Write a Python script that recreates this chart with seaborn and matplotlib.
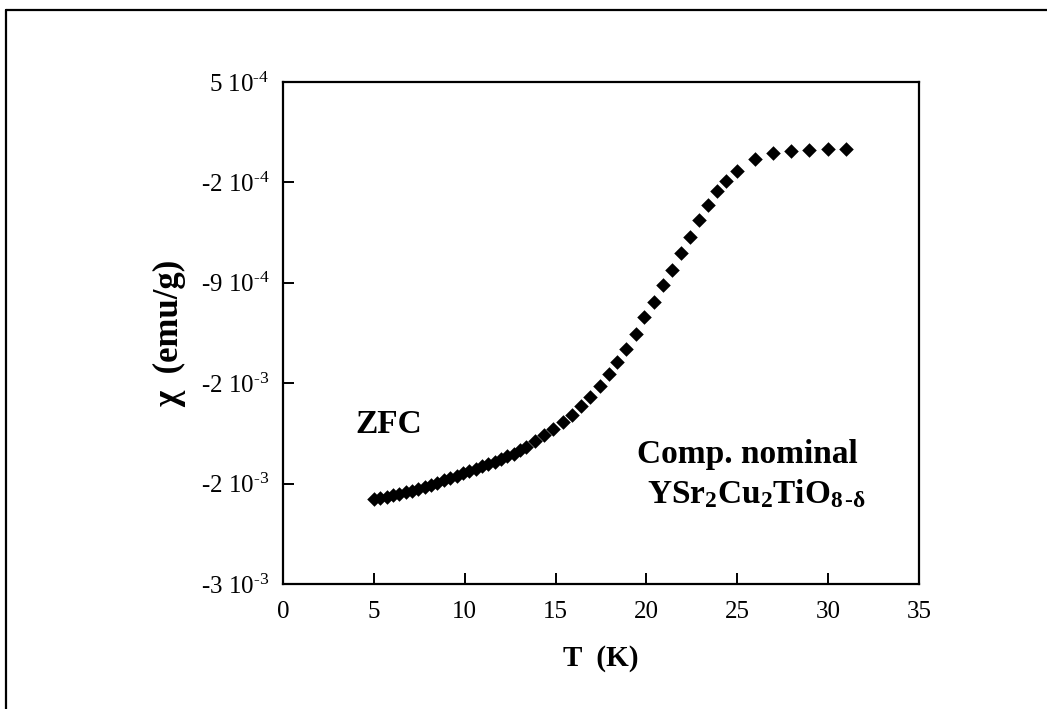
import matplotlib
matplotlib.use("Agg")
import matplotlib.pyplot as plt
import seaborn as sns
import numpy as np
import pandas as pd
from matplotlib.lines import Line2D

# ---- data ----
temperature_K = [
    5.0, 5.35, 5.7, 6.05, 6.4, 6.75, 7.1, 7.45, 7.8, 8.15, 8.5, 8.85, 9.2,
    9.55, 9.9, 10.25, 10.6, 10.95, 11.3, 11.65, 12.0, 12.35, 12.7, 13.05,
    13.4, 13.85,
    14.34, 14.85, 15.40, 15.90, 16.41, 16.91, 17.42, 17.93, 18.39, 18.88,
    19.40, 19.89, 20.40, 20.93, 21.41, 21.92, 22.40, 22.91, 23.39, 23.86,
    24.38, 24.96, 25.99, 26.98, 27.97, 28.96, 29.98, 31.00,
]
chi_emu_g_1e3 = [
    -2.410, -2.400, -2.391, -2.381, -2.371, -2.361, -2.349, -2.336, -2.323,
    -2.309, -2.294, -2.278, -2.262, -2.245, -2.228, -2.212, -2.196, -2.180,
    -2.163, -2.146, -2.129, -2.110, -2.091, -2.069, -2.046, -2.000,
    -1.959, -1.917, -1.871, -1.824, -1.761, -1.697, -1.622, -1.538, -1.452,
    -1.359, -1.254, -1.140, -1.034, -0.917, -0.812, -0.695, -0.579, -0.463,
    -0.360, -0.263, -0.187, -0.120, -0.039, 0.002, 0.018, 0.025, 0.030,
    0.030,
]
x_ticks = [0, 5, 10, 15, 20, 25, 30, 35]
y_ticks = [5e-4, -2e-4, -9e-4, -1.6e-3, -2.3e-3, -3e-3]
y_tick_labels = [r"5 10$^{\text{-}4}$", r"-2 10$^{\text{-}4}$", r"-9 10$^{\text{-}4}$",
                 r"-2 10$^{\text{-}3}$", r"-2 10$^{\text{-}3}$", r"-3 10$^{\text{-}3}$"]

df = pd.DataFrame({"T": temperature_K,
                   "chi": np.array(chi_emu_g_1e3) * 1e-3})

# ---- style ----
sns.set_theme(style="white")
plt.rcParams["font.family"] = ["Liberation Serif", "DejaVu Serif"]
plt.rcParams["mathtext.fontset"] = "custom"
plt.rcParams["mathtext.rm"] = "Liberation Serif"
plt.rcParams["mathtext.it"] = "Liberation Serif:italic"
plt.rcParams["mathtext.bf"] = "Liberation Serif:bold"

fig = plt.figure(figsize=(10.47, 7.09), dpi=100)
ax = fig.add_axes([0.2703, 0.1763, 0.6074, 0.708])

sns.scatterplot(data=df, x="T", y="chi", ax=ax, marker="D", s=55,
                color="black", edgecolor="black", linewidth=0, legend=False)

ax.set_xlim(0, 35)
ax.set_ylim(-3e-3, 5e-4)
ax.set_xticks(x_ticks)
ax.set_xticklabels([str(t) for t in x_ticks])
ax.set_yticks(y_ticks)
ax.set_yticklabels(y_tick_labels)

for sp in ax.spines.values():
    sp.set_visible(True)
    sp.set_color("black")
    sp.set_linewidth(1.6)

ax.tick_params(axis="both", which="major", direction="in", length=8,
               width=1.4, color="black", labelsize=18, labelcolor="black",
               left=True, bottom=True, top=False, right=False)
ax.tick_params(axis="y", pad=10)
ax.tick_params(axis="x", pad=12)

ax.set_xlabel("T  (K)", fontsize=21, fontweight="bold", labelpad=16,
              color="black")
ax.set_ylabel(r"χ  (emu/g)", fontsize=25, fontweight="bold", labelpad=10,
              color="black")

ax.text(4.0, -1.95e-3, "ZFC", fontsize=24, fontweight="bold",
        ha="left", va="baseline", color="black")
ax.text(31.65, -2.159e-3, "Comp. nominal", fontsize=24, fontweight="bold",
        ha="right", va="baseline", color="black")
ax.text(32.1, -2.438e-3,
        r"YSr$_{\mathbf{2}}$Cu$_{\mathbf{2}}$TiO$_{\mathbf{8}\,\mathbf{\text{-}δ}}$",
        fontsize=24, fontweight="bold", ha="right", va="baseline",
        color="black")

# outer frame of the original figure (left and top edges visible)
fig.add_artist(Line2D([6 / 1047, 6 / 1047], [0, 1 - 10 / 709],
                      transform=fig.transFigure, color="black", lw=1.6))
fig.add_artist(Line2D([6 / 1047, 1], [1 - 10 / 709, 1 - 10 / 709],
                      transform=fig.transFigure, color="black", lw=1.6))

fig.savefig("out.png", dpi=100, facecolor="white")
